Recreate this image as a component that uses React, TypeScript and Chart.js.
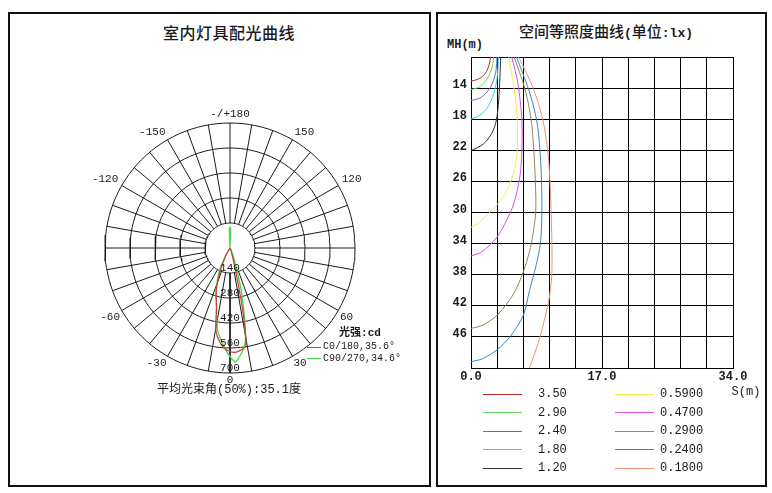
import React, { useEffect, useRef } from "react";
import { Chart, registerables } from "chart.js";
Chart.register(...registerables);

// ---------- Polar (luminous intensity distribution) data ----------
const ringValues = [140, 280, 420, 560, 700];
const radialStep = 10;
const angleLabelValues = [180, 150, 120, 60, 30, 0, -30, -60, -120, -150];
const angleLabelTexts = ["-/+180", "150", "120", "60", "30", "0", "-30", "-60", "-120", "-150"];

const c0Angles = [-180, -90, -40, -30, -23, -18, -13, -10, -8, -4, 0, 3, 6, 9, 10.5, 12, 14, 20, 40, 90, 180];
const c0Values = [0, 0, 0, 40, 143, 250, 337, 459, 503, 556, 580, 585, 575, 559, 470, 300, 120, 20, 0, 0, 0];

const c90Angles = [-180, -178, -170, -90, -40, -30, -24.6, -18, -12.9, -8.6, -3.3, -0.4, 2.7, 5, 7.1, 9.5, 11.8, 14.8, 20, 30, 40, 90, 170, 178, 180];
const c90Values = [120, 100, 0, 0, 0, 50, 145, 250, 337, 466, 556, 602, 640, 610, 578, 525, 394, 243, 70, 10, 0, 0, 0, 100, 120];

const polarSeriesLabels = ["C0/180,35.6°", "C90/270,34.6°"];
const polarSeriesColors = ["#cc3a3a", "#4ad64a"];

// ---------- Isolux data (S [m], MH [m]) ----------
const isoLabels = ["3.50", "2.90", "2.40", "1.80", "1.20", "0.5900", "0.4700", "0.2900", "0.2400", "0.1800"];
const isoColors = ["#b82828", "#5cd85c", "#6a6ac4", "#36d4e4", "#303030", "#f2ee50", "#e050e0", "#8c8a58", "#3a86c0", "#f09478"];

const lux350 = [[2.55, 10], [2.35, 11], [2.0, 11.9], [1.5, 12.5], [0.8, 12.9], [0, 13.1]];
const lux290 = [[2.95, 10], [2.8, 11.1], [2.4, 12.2], [1.8, 13.2], [1.0, 13.9], [0, 14.2]];
const lux240 = [[3.38, 10], [3.25, 11.7], [2.85, 13.2], [2.1, 14.5], [1.1, 15.3], [0, 15.6]];
const lux180 = [[3.58, 10], [3.4, 12.6], [2.95, 14.7], [2.2, 16.4], [1.15, 17.5], [0, 18.0]];
const lux120 = [[3.85, 10], [3.75, 12.6], [3.6, 15.5], [3.3, 18.1], [2.7, 19.8], [1.6, 21.2], [0, 22.05]];
const lux059 = [[4.9, 10], [5.6, 14.1], [6.0, 18], [6.0, 22], [5.5, 25], [4.2, 28], [2.5, 29.9], [1.0, 31.3], [0, 31.9]];
const lux047 = [[5.3, 10], [6.1, 13.5], [6.6, 18], [6.6, 22], [6.4, 25], [5.8, 28], [5.1, 30], [3.5, 33], [1.5, 35], [0, 35.6]];
const lux029 = [[5.6, 10], [7.0, 14.1], [7.8, 18], [8.15, 22], [8.35, 26], [8.4, 30], [8.0, 33], [7.6, 35], [6.8, 37.6], [5.5, 40.5], [3.4, 43.2], [1.5, 44.5], [0, 44.9]];
const lux024 = [[5.9, 10], [7.45, 14.1], [8.5, 18], [8.95, 22], [9.15, 26], [9.2, 30], [9.0, 34], [8.4, 37], [7.6, 40], [6.8, 43.2], [5.2, 45.8], [3.4, 47.65], [1.5, 48.8], [0, 49.2]];
const lux018 = [[6.2, 10], [8.1, 14.1], [9.3, 18], [9.95, 22], [10.25, 26], [10.4, 30], [10.5, 34], [10.5, 37.6], [10.3, 40], [9.95, 42], [8.9, 46.2], [7.6, 50]];
const isoCurves = [lux350, lux290, lux240, lux180, lux120, lux059, lux047, lux029, lux024, lux018];

const xTickLabels = [0, 17, 34];
const yTickLabels = [14, 18, 22, 26, 30, 34, 38, 42, 46];

const MONO = '"Liberation Mono", "DejaVu Sans Mono", monospace';
const CJK = '"Noto Sans CJK SC", "Noto Sans", sans-serif';

const rad = (a: number) => (a * Math.PI) / 180;
const polarPt = (a: number, v: number) => ({ x: v * Math.sin(rad(a)), y: -v * Math.cos(rad(a)) });

// Polar canvas geometry
const P_SIZE = 300;
const P_CX = 230;
const P_CY = 248;
const P_RADIUS_PX = 125;

function PolarChart() {
  const ref = useRef<HTMLCanvasElement | null>(null);
  useEffect(() => {
    const maxV = ringValues[ringValues.length - 1];
    const unitPerPx = maxV / P_RADIUS_PX;
    const half = (P_SIZE / 2) * unitPerPx;
    const datasets: any[] = [];
    ringValues.forEach((v) => {
      const pts = [];
      for (let a = 0; a <= 360; a += 3) pts.push(polarPt(a, v));
      datasets.push({ data: pts, showLine: true, borderColor: "#1a1a1a", borderWidth: 1, pointRadius: 0, tension: 0, order: 3 });
    });
    for (let a = -180; a < 180; a += radialStep) {
      datasets.push({
        data: [polarPt(a, ringValues[0]), polarPt(a, maxV)],
        showLine: true, borderColor: "#1a1a1a", borderWidth: 1, pointRadius: 0, order: 3,
      });
    }
    datasets.push({
      label: polarSeriesLabels[0],
      data: c0Angles.map((a, i) => polarPt(a, c0Values[i])),
      showLine: true, borderColor: polarSeriesColors[0], borderWidth: 1.2, pointRadius: 0, tension: 0.2, order: 1,
    });
    datasets.push({
      label: polarSeriesLabels[1],
      data: c90Angles.map((a, i) => polarPt(a, c90Values[i])),
      showLine: true, borderColor: polarSeriesColors[1], borderWidth: 1.3, pointRadius: 0, tension: 0.2, order: 2,
    });

    const textPlugin = {
      id: "polarText",
      afterDatasetsDraw(chart: any) {
        const { ctx } = chart;
        const xs = chart.scales.x, ys = chart.scales.y;
        const cx = xs.getPixelForValue(0), cy = ys.getPixelForValue(0);
        const rPix = xs.getPixelForValue(maxV) - cx;
        ctx.save();
        ctx.font = `11px ${MONO}`;
        ctx.fillStyle = "#1a1a1a";
        ctx.textAlign = "center";
        ctx.textBaseline = "middle";
        ringValues.forEach((v) => {
          ctx.fillText(String(v), cx, ys.getPixelForValue(-v) - 4.5);
        });
        angleLabelValues.forEach((a, i) => {
          const s = Math.sin(rad(a)), c = Math.cos(rad(a));
          const rl = rPix + (c > 0 ? 2 : 4);
          const px = cx + rl * s, py = cy + rl * c;
          ctx.textAlign = Math.abs(s) < 0.05 ? "center" : s > 0 ? "left" : "right";
          ctx.textBaseline = c > 0 ? "top" : "bottom";
          ctx.fillText(angleLabelTexts[i], px, py + (c > 0 ? 0 : 1));
        });
        ctx.restore();
      },
    };

    const chart = new Chart(ref.current as HTMLCanvasElement, {
      type: "scatter",
      data: { datasets },
      options: {
        animation: false,
        responsive: false,
        maintainAspectRatio: false,
        layout: { padding: 0 },
        plugins: { legend: { display: false }, tooltip: { enabled: false } },
        scales: {
          x: { type: "linear", min: -half, max: half, display: false },
          y: { type: "linear", min: -half, max: half, display: false },
        },
      },
      plugins: [textPlugin],
    } as any);
    return () => chart.destroy();
  }, []);
  return (
    <canvas
      ref={ref}
      width={P_SIZE}
      height={P_SIZE}
      style={{ position: "absolute", left: P_CX - P_SIZE / 2, top: P_CY - P_SIZE / 2, width: P_SIZE, height: P_SIZE }}
    />
  );
}

function IsoluxChart() {
  const ref = useRef<HTMLCanvasElement | null>(null);
  useEffect(() => {
    const near = (v: number, list: number[]) => list.some((t) => Math.abs(t - v) < 1e-6);
    const chart = new Chart(ref.current as HTMLCanvasElement, {
      type: "scatter",
      data: {
        datasets: isoCurves.map((c, i) => ({
          label: isoLabels[i],
          data: c.map(([x, y]) => ({ x, y })),
          showLine: true,
          borderColor: isoColors[i],
          borderWidth: 1,
          pointRadius: 0,
          tension: 0.3,
        })),
      },
      options: {
        animation: false,
        responsive: false,
        maintainAspectRatio: false,
        layout: { padding: { top: 17, right: 33, left: 0, bottom: 0 } },
        plugins: { legend: { display: false }, tooltip: { enabled: false } },
        scales: {
          x: {
            type: "linear", min: 0, max: 34,
            ticks: {
              stepSize: 3.4, autoSkip: false, maxRotation: 0, padding: 2,
              font: { family: MONO, size: 12, weight: "bold" }, color: "#1a1a1a",
              callback: (v: any) => (near(Number(v), xTickLabels) ? Number(v).toFixed(1) : ""),
            },
            grid: { color: "#000", lineWidth: 1, drawTicks: false },
            border: { color: "#000", width: 1 },
            afterFit: (s: any) => { s.height = 24; },
          },
          y: {
            type: "linear", min: 10, max: 50, reverse: true,
            ticks: {
              stepSize: 4, autoSkip: false, padding: 4, labelOffset: -3,
              font: { family: MONO, size: 12, weight: "bold" }, color: "#1a1a1a",
              callback: (v: any) => (near(Number(v), yTickLabels) ? String(Math.round(Number(v))) : ""),
            },
            grid: { color: "#000", lineWidth: 1, drawTicks: false },
            border: { color: "#000", width: 1 },
            afterFit: (s: any) => { s.width = 33; },
          },
        },
      },
    } as any);
    return () => chart.destroy();
  }, []);
  return (
    <canvas
      ref={ref}
      width={328}
      height={352}
      style={{ position: "absolute", left: 438, top: 40, width: 328, height: 352 }}
    />
  );
}

const Txt = ({ x, y, align = "center", style, children }: any) => (
  <div
    style={{
      position: "absolute",
      left: x,
      top: y,
      transform: `translate(${align === "center" ? "-50%" : align === "right" ? "-100%" : "0"}, -50%)`,
      whiteSpace: "nowrap",
      lineHeight: 1,
      color: "#1a1a1a",
      ...style,
    }}
  >
    {children}
  </div>
);

export default function App() {
  const legendRowY = (i: number) => 394 + (i % 5) * 18.5;
  return (
    <div style={{ position: "fixed", left: 0, top: 0, width: 772, height: 493, background: "#fff", overflow: "hidden" }}>
      {/* panel borders */}
      <div style={{ position: "absolute", left: 8, top: 12, width: 423, height: 475, border: "2px solid #111", boxSizing: "border-box" }} />
      <div style={{ position: "absolute", left: 436, top: 12, width: 331, height: 475, border: "2px solid #111", boxSizing: "border-box" }} />

      {/* left panel */}
      <Txt x={229} y={32} style={{ fontFamily: CJK, fontSize: 16, fontWeight: 500, letterSpacing: 0.5 }}>室内灯具配光曲线</Txt>
      <PolarChart />
      <Txt x={360} y={333} style={{ fontFamily: `${MONO}, ${CJK}`, fontSize: 11, fontWeight: "bold" }}>光强:cd</Txt>
      {polarSeriesLabels.map((l, i) => (
        <React.Fragment key={l}>
          <div style={{ position: "absolute", left: 307, top: 346.5 + i * 11.5, width: 14, height: 1, background: polarSeriesColors[i] }} />
          <Txt x={323} y={347 + i * 11.5} align="left" style={{ fontFamily: MONO, fontSize: 10 }}>{l}</Txt>
        </React.Fragment>
      ))}
      <Txt x={229} y={390} style={{ fontFamily: `${MONO}, ${CJK}`, fontSize: 12 }}>平均光束角(50%):35.1度</Txt>

      {/* right panel */}
      <Txt x={606} y={31} style={{ fontFamily: CJK, fontSize: 15, fontWeight: 500 }}>
        空间等照度曲线<span style={{ fontFamily: `${MONO}, ${CJK}`, fontWeight: "bold", fontSize: 13 }}>(</span>单位<span style={{ fontFamily: MONO, fontWeight: "bold", fontSize: 13 }}>:lx)</span>
      </Txt>
      <Txt x={447} y={45} align="left" style={{ fontFamily: MONO, fontSize: 12, fontWeight: "bold" }}>MH(m)</Txt>
      <IsoluxChart />
      <Txt x={746} y={392} style={{ fontFamily: MONO, fontSize: 12 }}>S(m)</Txt>
      {isoLabels.map((l, i) => {
        const col = i < 5 ? 0 : 1;
        const lx = col === 0 ? 483 : 615;
        const tx = col === 0 ? 538 : 660;
        return (
          <React.Fragment key={l}>
            <div style={{ position: "absolute", left: lx, top: legendRowY(i) - 0.5, width: 39, height: 1, background: isoColors[i] }} />
            <Txt x={tx} y={legendRowY(i)} align="left" style={{ fontFamily: MONO, fontSize: 12 }}>{l}</Txt>
          </React.Fragment>
        );
      })}
    </div>
  );
}
